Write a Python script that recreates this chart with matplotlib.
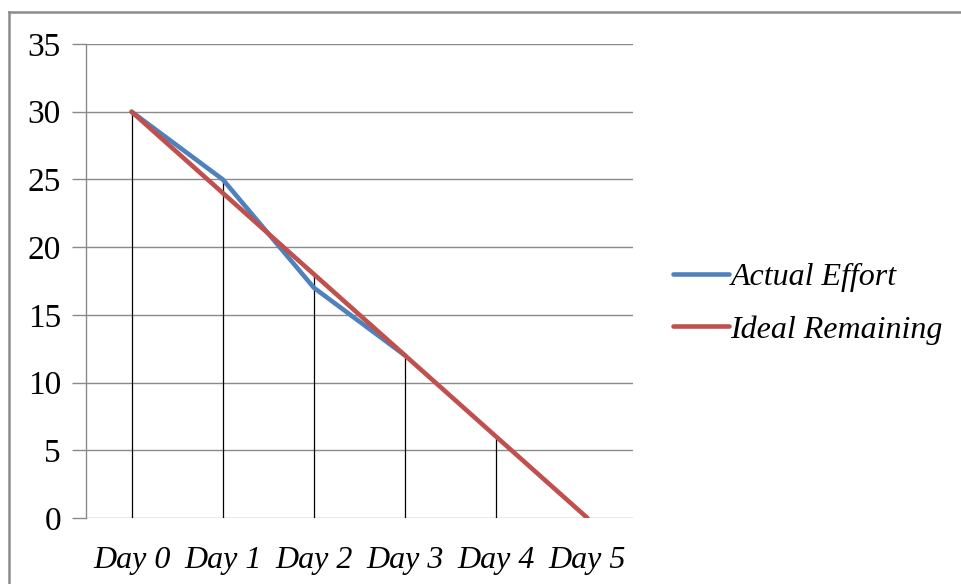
import matplotlib
matplotlib.use("Agg")
import matplotlib.pyplot as plt
from matplotlib.lines import Line2D
import numpy as np

days = ["Day 0", "Day 1", "Day 2", "Day 3", "Day 4", "Day 5"]
actual_effort = [30, 25, 17, 12, np.nan, np.nan]
ideal_remaining = [30, 24, 18, 12, 6, 0]
y_ticks = [0, 5, 10, 15, 20, 25, 30, 35]

W, H = 962, 584
fig = plt.figure(figsize=(W / 100, H / 100), dpi=100)
fig.patch.set_facecolor("white")

serif = ["Liberation Serif", "DejaVu Serif"]

# chart frame (left and top edges visible)
fig.add_artist(Line2D([9 / W, 9 / W], [0, 1 - 12 / H], transform=fig.transFigure,
                      color="#8c8c8c", lw=1.8))
fig.add_artist(Line2D([9 / W, 1], [1 - 12 / H, 1 - 12 / H], transform=fig.transFigure,
                      color="#8c8c8c", lw=1.8))

ax = fig.add_axes([86 / W, 1 - 518 / H, (633 - 86) / W, (518 - 44) / H])
x = np.arange(len(days))
ax.set_xlim(-0.5, len(days) - 0.5)
ax.set_ylim(0, 35)

# horizontal gridlines
for v in y_ticks:
    ax.axhline(v, color="#8a8a8a", lw=1.0, zorder=1)

# drop lines from the higher series down to the axis
tops = np.fmax(np.array(actual_effort, dtype=float), np.array(ideal_remaining, dtype=float))
ax.vlines(x, 0, tops, color="black", lw=0.9, zorder=2)

ax.plot(x, actual_effort, color="#4F81BD", lw=3.3, solid_capstyle="round",
        solid_joinstyle="round", zorder=3, label="Actual Effort")
ax.plot(x, ideal_remaining, color="#C0504D", lw=3.3, solid_capstyle="round",
        solid_joinstyle="round", zorder=4, label="Ideal Remaining")

for s in ["top", "right", "bottom"]:
    ax.spines[s].set_visible(False)
ax.spines["left"].set_color("#8a8a8a")
ax.spines["left"].set_linewidth(1.0)

ax.set_yticks(y_ticks)
ax.set_yticklabels([str(v) for v in y_ticks], family=serif, fontsize=24)
ax.tick_params(axis="y", length=10, width=1.0, color="#8a8a8a", pad=8)
ax.set_xticks(x)
ax.set_xticklabels(days, family=serif, style="italic", fontsize=23)
ax.tick_params(axis="x", length=0, pad=20)

leg = fig.legend(loc="upper left", bbox_to_anchor=(660 / W, 1 - 250 / H),
                 frameon=False, prop={"family": serif, "style": "italic", "size": 23},
                 handlelength=1.75, handletextpad=0.05, labelspacing=0.72,
                 borderaxespad=0)

fig.savefig("out.png", dpi=100, facecolor="white")
